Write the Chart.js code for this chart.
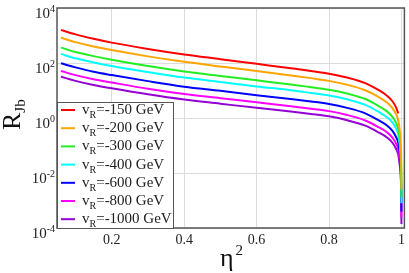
<!DOCTYPE html>
<html>
<head>
<meta charset="utf-8">
<script src="https://cdn.jsdelivr.net/npm/chart.js@4"></script>
<style>
  html, body { margin: 0; padding: 0; background: #fff; }
  canvas { display: block; }
</style>
</head>
<body>
<canvas id="myChart" width="409" height="273"></canvas>
<script>
// eta^2 sample points
const etaSq = [0.06, 0.1, 0.15, 0.2, 0.3, 0.4, 0.5, 0.6, 0.7, 0.75, 0.8, 0.85, 0.9, 0.935, 0.96, 0.975, 0.985, 0.991, 0.995, 0.998, 0.9993, 0.9999];

// R_Jb values for each v_R curve
const r150 = [1580, 1100, 759, 550, 324, 204, 138, 93.3, 63.1, 51.3, 40.7, 29.5, 18.6, 10.7, 6.46, 4.07, 2.45, 1.48];
const r200 = [832, 575, 398, 295, 174, 110, 74.1, 51.3, 34.7, 28.2, 22.4, 16.2, 10.2, 6.03, 3.63, 2.29, 1.38, 0.832, 0.355, 0.1, 0.0251, 0.00251];
const r300 = [363, 251, 178, 132, 77.6, 49.0, 33.9, 23.4, 16.2, 13.2, 10.7, 7.76, 4.90, 2.82, 1.74, 1.10, 0.661, 0.407, 0.178, 0.0501, 0.0126, 0.00126];
const r400 = [214, 148, 105, 77.6, 46.8, 29.5, 20.4, 14.1, 10.0, 8.13, 6.61, 4.79, 3.02, 1.74, 1.07, 0.692, 0.417, 0.251, 0.112, 0.0316, 0.00631, 0.000794];
const r600 = [97.7, 69.2, 47.9, 36.3, 21.9, 13.8, 9.77, 6.76, 4.79, 3.98, 3.24, 2.34, 1.48, 0.851, 0.537, 0.339, 0.204, 0.126, 0.0562, 0.0158, 0.00316, 0.000398];
const r800 = [51.3, 36.3, 25.7, 19.5, 11.5, 7.41, 5.25, 3.72, 2.63, 2.19, 1.78, 1.29, 0.813, 0.479, 0.302, 0.195, 0.117, 0.0724, 0.0316, 0.01, 0.002, 0.000251];
const r1000 = [31.6, 22.4, 15.8, 12.0, 7.24, 4.68, 3.31, 2.34, 1.70, 1.41, 1.15, 0.832, 0.525, 0.309, 0.195, 0.126, 0.0759, 0.0468, 0.02, 0.00708, 0.00126, 0.000141];

const seriesNames = ["-150 GeV", "-200 GeV", "-300 GeV", "-400 GeV", "-600 GeV", "-800 GeV", "-1000 GeV"];
const seriesValues = [r150, r200, r300, r400, r600, r800, r1000];
const seriesColors = ["#ff0000", "#ffa500", "#22ee22", "#00ffff", "#0000ff", "#ff00ff", "#9400d3"];

const xTicks = [0.2, 0.4, 0.6, 0.8, 1];
const yTicks = [1e-4, 1e-2, 1, 1e2, 1e4];
const yTickExp = ["-4", "-2", "0", "2", "4"];

const SERIF = "'Liberation Serif', 'DejaVu Serif', serif";

const datasets = seriesValues.map((vals, i) => ({
  label: "vR=" + seriesNames[i],
  data: vals.map((v, j) => ({ x: etaSq[j], y: v })),
  borderColor: seriesColors[i],
  borderWidth: 2,
  pointRadius: 0,
  fill: false,
  cubicInterpolationMode: "monotone",
}));

// frame, y tick labels, legend box and axis titles
const decorations = {
  id: "decorations",
  afterDraw(chart) {
    const ctx = chart.ctx;
    const a = chart.chartArea;
    const ys = chart.scales.y;

    ctx.save();
    // plot frame
    ctx.strokeStyle = "#555";
    ctx.lineWidth = 1.5;
    ctx.strokeRect(a.left, a.top, a.right - a.left, a.bottom - a.top);

    // y tick labels 10^n
    ctx.fillStyle = "#222";
    ctx.textBaseline = "alphabetic";
    yTicks.forEach((t, i) => {
      const py = ys.getPixelForValue(t);
      ctx.font = "10px " + SERIF;
      const supW = ctx.measureText(yTickExp[i]).width;
      const right = 55;
      ctx.textAlign = "left";
      ctx.fillText(yTickExp[i], right - supW, py + 4);
      ctx.font = "15px " + SERIF;
      ctx.textAlign = "right";
      ctx.fillText("10", right - supW, py + 10);
    });

    // legend
    const lx = a.left, ly = 102, lw = 116, lh = a.bottom - 102;
    ctx.fillStyle = "#fff";
    ctx.fillRect(lx, ly, lw, lh);
    ctx.strokeStyle = "#555";
    ctx.lineWidth = 1;
    ctx.strokeRect(lx + 0.5, ly + 0.5, lw, lh);
    seriesNames.forEach((name, i) => {
      const cy = 110 + i * 18.2;
      ctx.strokeStyle = seriesColors[i];
      ctx.lineWidth = 2;
      ctx.beginPath();
      ctx.moveTo(61, cy);
      ctx.lineTo(75, cy);
      ctx.stroke();
      ctx.fillStyle = "#222";
      ctx.textAlign = "left";
      ctx.font = "15px " + SERIF;
      let x = 82;
      ctx.fillText("v", x, cy + 4);
      x += ctx.measureText("v").width;
      ctx.font = "10px " + SERIF;
      ctx.fillText("R", x, cy + 8);
      x += ctx.measureText("R").width;
      ctx.font = "15px " + SERIF;
      ctx.fillText("=" + name, x, cy + 4);
    });

    // y axis title R_Jb
    ctx.save();
    ctx.translate(20, 130);
    ctx.rotate(-Math.PI / 2);
    ctx.fillStyle = "#111";
    ctx.textAlign = "left";
    ctx.font = "26px " + SERIF;
    ctx.fillText("R", 0, 0);
    const rw = ctx.measureText("R").width;
    ctx.font = "15px " + SERIF;
    ctx.fillText("Jb", rw, 5);
    ctx.restore();

    // x axis title eta^2
    ctx.fillStyle = "#111";
    ctx.textAlign = "left";
    ctx.font = "26px " + SERIF;
    ctx.fillText("\u03B7", 220, 266);
    const ew = ctx.measureText("\u03B7").width;
    ctx.font = "15px " + SERIF;
    ctx.fillText("2", 220 + ew + 2, 255);
    ctx.restore();
  },
};

const config = {
  type: "line",
  data: { datasets: datasets },
  options: {
    responsive: false,
    animation: false,
    layout: { padding: { left: 0, top: 8, right: 2, bottom: 0 } },
    plugins: { legend: { display: false }, tooltip: { enabled: false } },
    scales: {
      x: {
        type: "linear",
        min: 0.049,
        max: 1.008,
        afterBuildTicks: (scale) => { scale.ticks = xTicks.map((v) => ({ value: v })); },
        afterFit: (scale) => { scale.height = 45; },
        grid: { color: "#dcdcdc", lineWidth: 1, drawTicks: false },
        border: { display: false },
        ticks: {
          padding: 4,
          color: "#222",
          font: { family: SERIF, size: 14 },
          callback: (v) => (v === 1 ? "1" : v.toFixed(1)),
        },
      },
      y: {
        type: "logarithmic",
        min: 1e-4,
        max: 1e4,
        afterBuildTicks: (scale) => { scale.ticks = yTicks.map((v) => ({ value: v })); },
        afterFit: (scale) => { scale.width = 57; },
        grid: { color: "#dcdcdc", lineWidth: 1, drawTicks: false },
        border: { display: false },
        ticks: { display: false },
      },
    },
  },
  plugins: [decorations],
};

const myChart = new Chart(document.getElementById("myChart"), config);
</script>
</body>
</html>
